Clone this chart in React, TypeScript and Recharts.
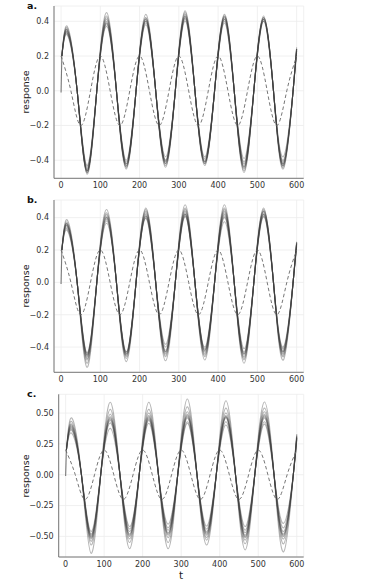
import { CartesianGrid, Line, LineChart, XAxis, YAxis } from "recharts";

// times of the response peaks/troughs and of the zero crossings between them
const T_EXTREME = [16, 66, 116, 166, 216, 266, 316, 366, 416, 466, 516, 566];
const T_CROSS = [41, 91, 141, 191, 241, 291, 341, 391, 441, 491, 541, 591];
const T_START = 2;
const T_END = 600;

const X_TICKS = [0, 100, 200, 300, 400, 500, 600];

// dashed input, read every 25 steps
const INPUT_T = [0, 25, 50, 75, 100, 125, 150, 175, 200, 225, 250, 275, 300, 325, 350, 375, 400, 425, 450, 475, 500, 525, 550, 575, 600];
const INPUT_V = [0.2, 0, -0.2, 0, 0.2, 0, -0.2, 0, 0.2, 0, -0.2, 0, 0.2, 0, -0.2, 0, 0.2, 0, -0.2, 0, 0.2, 0, -0.2, 0, 0.2];

// the short onset from rest at t = 0
const ONSET_T = [0, 2];
const ONSET_V = [-0.01, 0.2];

// per line: values at the 12 extremes, then the value at t = 600
const RESP_A = [
  [0.37, -0.48, 0.45, -0.45, 0.44, -0.44, 0.46, -0.43, 0.44, -0.47, 0.43, -0.45, 0.25],
  [0.35, -0.47, 0.42, -0.44, 0.42, -0.43, 0.45, -0.42, 0.43, -0.45, 0.42, -0.44, 0.24],
  [0.34, -0.46, 0.4, -0.43, 0.41, -0.42, 0.43, -0.41, 0.42, -0.44, 0.42, -0.43, 0.24],
  [0.34, -0.46, 0.39, -0.42, 0.4, -0.41, 0.42, -0.41, 0.41, -0.43, 0.41, -0.42, 0.23],
  [0.33, -0.45, 0.39, -0.42, 0.4, -0.4, 0.42, -0.4, 0.41, -0.42, 0.41, -0.41, 0.23],
  [0.33, -0.44, 0.38, -0.41, 0.39, -0.4, 0.41, -0.39, 0.4, -0.41, 0.4, -0.4, 0.23],
  [0.32, -0.43, 0.37, -0.4, 0.38, -0.38, 0.4, -0.38, 0.39, -0.39, 0.4, -0.38, 0.22],
  [0.36, -0.47, 0.43, -0.43, 0.42, -0.42, 0.44, -0.42, 0.42, -0.46, 0.42, -0.43, 0.24],
  [0.35, -0.46, 0.41, -0.44, 0.41, -0.41, 0.43, -0.41, 0.43, -0.44, 0.41, -0.42, 0.24],
];

const RESP_B = [
  [0.385, -0.525, 0.45, -0.49, 0.46, -0.485, 0.48, -0.48, 0.48, -0.5, 0.46, -0.48, 0.25],
  [0.37, -0.5, 0.43, -0.47, 0.45, -0.46, 0.46, -0.46, 0.46, -0.48, 0.45, -0.46, 0.25],
  [0.36, -0.47, 0.41, -0.45, 0.43, -0.44, 0.44, -0.44, 0.44, -0.46, 0.44, -0.44, 0.24],
  [0.35, -0.46, 0.4, -0.45, 0.42, -0.43, 0.43, -0.43, 0.43, -0.45, 0.43, -0.43, 0.24],
  [0.35, -0.45, 0.4, -0.44, 0.41, -0.43, 0.42, -0.42, 0.42, -0.44, 0.42, -0.43, 0.24],
  [0.34, -0.45, 0.39, -0.44, 0.41, -0.42, 0.42, -0.42, 0.41, -0.44, 0.42, -0.42, 0.23],
  [0.33, -0.44, 0.38, -0.43, 0.4, -0.4, 0.41, -0.41, 0.4, -0.43, 0.41, -0.41, 0.23],
  [0.32, -0.435, 0.365, -0.43, 0.395, -0.383, 0.405, -0.4, 0.375, -0.41, 0.405, -0.4, 0.22],
  [0.36, -0.48, 0.42, -0.46, 0.44, -0.45, 0.45, -0.45, 0.45, -0.47, 0.44, -0.45, 0.24],
];

const RESP_C = [
  [0.46, -0.637, 0.587, -0.6, 0.587, -0.6, 0.614, -0.57, 0.6, -0.61, 0.59, -0.625, 0.33],
  [0.43, -0.57, 0.53, -0.55, 0.53, -0.55, 0.55, -0.53, 0.54, -0.56, 0.54, -0.56, 0.32],
  [0.41, -0.54, 0.49, -0.52, 0.5, -0.51, 0.51, -0.51, 0.5, -0.53, 0.51, -0.52, 0.31],
  [0.4, -0.52, 0.47, -0.5, 0.48, -0.49, 0.49, -0.49, 0.48, -0.51, 0.49, -0.5, 0.31],
  [0.39, -0.51, 0.46, -0.49, 0.47, -0.48, 0.48, -0.48, 0.47, -0.5, 0.48, -0.49, 0.3],
  [0.38, -0.5, 0.45, -0.48, 0.46, -0.47, 0.47, -0.47, 0.47, -0.49, 0.47, -0.48, 0.3],
  [0.37, -0.49, 0.44, -0.46, 0.45, -0.45, 0.46, -0.46, 0.46, -0.47, 0.46, -0.46, 0.3],
  [0.36, -0.48, 0.42, -0.44, 0.44, -0.43, 0.43, -0.44, 0.43, -0.45, 0.43, -0.43, 0.29],
  [0.336, -0.46, 0.376, -0.42, 0.417, -0.4, 0.417, -0.416, 0.403, -0.42, 0.41, -0.394, 0.28],
];

const Y_TICKS_AB = [-0.4, -0.2, 0, 0.2, 0.4];
const Y_TICKS_C = [-0.5, -0.25, 0, 0.25, 0.5];

const W = 389;
const H = 583;
const FONT = "DejaVu Sans, Verdana, sans-serif";

function responseRows(vals: number[]) {
  const rows = [{ t: T_START, v: ONSET_V[1] }];
  T_EXTREME.forEach((t, i) => {
    rows.push({ t, v: vals[i] });
    rows.push({ t: T_CROSS[i], v: 0 });
  });
  rows.push({ t: T_END, v: vals[vals.length - 1] });
  return rows;
}

const inputRows = INPUT_T.map((t, i) => ({ t, v: INPUT_V[i] }));
const onsetRows = ONSET_T.map((t, i) => ({ t, v: ONSET_V[i] }));

const fmt = (dec: number) => (v: number) =>
  (v < 0 ? "\u2212" : "") + Math.abs(v).toFixed(dec);

type PanelProps = {
  label: string;
  resp: number[][];
  top: number;
  bottom: number;
  left: number;
  right: number;
  domain: [number, number];
  ticks: number[];
  dec: number;
};

function Panel({ label, resp, top, bottom, left, right, domain, ticks, dec }: PanelProps) {
  const xh = 14;
  return (
    <>
      <div style={{ position: "absolute", left: 0, top: 0 }}>
        <LineChart
          width={W}
          height={H}
          margin={{ top, right: W - right, bottom: H - bottom - xh, left: 0 }}
        >
          <CartesianGrid stroke="#ececec" strokeWidth={0.8} />
          <XAxis
            dataKey="t"
            type="number"
            domain={[-18, 618]}
            ticks={X_TICKS}
            allowDataOverflow
            height={xh}
            tickSize={0}
            tickMargin={4}
            stroke="#777"
            tick={{ fontSize: 8, fill: "#333", fontFamily: FONT }}
          />
          <YAxis
            type="number"
            domain={domain}
            ticks={ticks}
            allowDataOverflow
            width={left}
            tickSize={0}
            tickMargin={5}
            stroke="#777"
            tickFormatter={fmt(dec)}
            tick={{ fontSize: 8, fill: "#333", fontFamily: FONT }}
          />
          <Line
            data={onsetRows}
            dataKey="v"
            type="linear"
            stroke="#444"
            strokeOpacity={0.7}
            strokeWidth={1.1}
            dot={false}
            isAnimationActive={false}
          />
          {resp.map((vals, i) => (
            <Line
              key={i}
              data={responseRows(vals)}
              dataKey="v"
              type="natural"
              stroke="#3c3c3c"
              strokeOpacity={0.38}
              strokeWidth={1.1}
              dot={false}
              isAnimationActive={false}
            />
          ))}
          <Line
            data={inputRows}
            dataKey="v"
            type="natural"
            stroke="#666"
            strokeWidth={0.9}
            strokeDasharray="3.5 2.5"
            dot={false}
            isAnimationActive={false}
          />
        </LineChart>
      </div>
      <div
        style={{
          position: "absolute",
          left: 27,
          top: top + 6 - 11,
          fontFamily: FONT,
          fontWeight: "bold",
          fontSize: 9.5,
          color: "#111",
          lineHeight: "10px",
        }}
      >
        {label}
      </div>
      <div
        style={{
          position: "absolute",
          left: 25.7,
          top: (top + bottom) / 2,
          transform: "translate(-50%, -50%) rotate(-90deg)",
          fontFamily: FONT,
          fontSize: 9.5,
          color: "#222",
          whiteSpace: "nowrap",
          lineHeight: "10px",
        }}
      >
        response
      </div>
    </>
  );
}

export default function App() {
  return (
    <div style={{ position: "absolute", left: 0, top: 0, width: W, height: H, background: "#fff" }}>
      <Panel label="a." resp={RESP_A} top={6} bottom={178.3} left={54} right={303.7} domain={[-0.504, 0.488]} ticks={Y_TICKS_AB} dec={1} />
      <Panel label="b." resp={RESP_B} top={200} bottom={372.3} left={54} right={303.7} domain={[-0.556, 0.509]} ticks={Y_TICKS_AB} dec={1} />
      <Panel label="c." resp={RESP_C} top={394.3} bottom={557} left={58.7} right={303.7} domain={[-0.667, 0.652]} ticks={Y_TICKS_C} dec={2} />
      <div
        style={{
          position: "absolute",
          left: 181,
          top: 575,
          transform: "translate(-50%, -50%)",
          fontFamily: FONT,
          fontSize: 10.5,
          color: "#222",
          lineHeight: "10px",
        }}
      >
        t
      </div>
    </div>
  );
}
